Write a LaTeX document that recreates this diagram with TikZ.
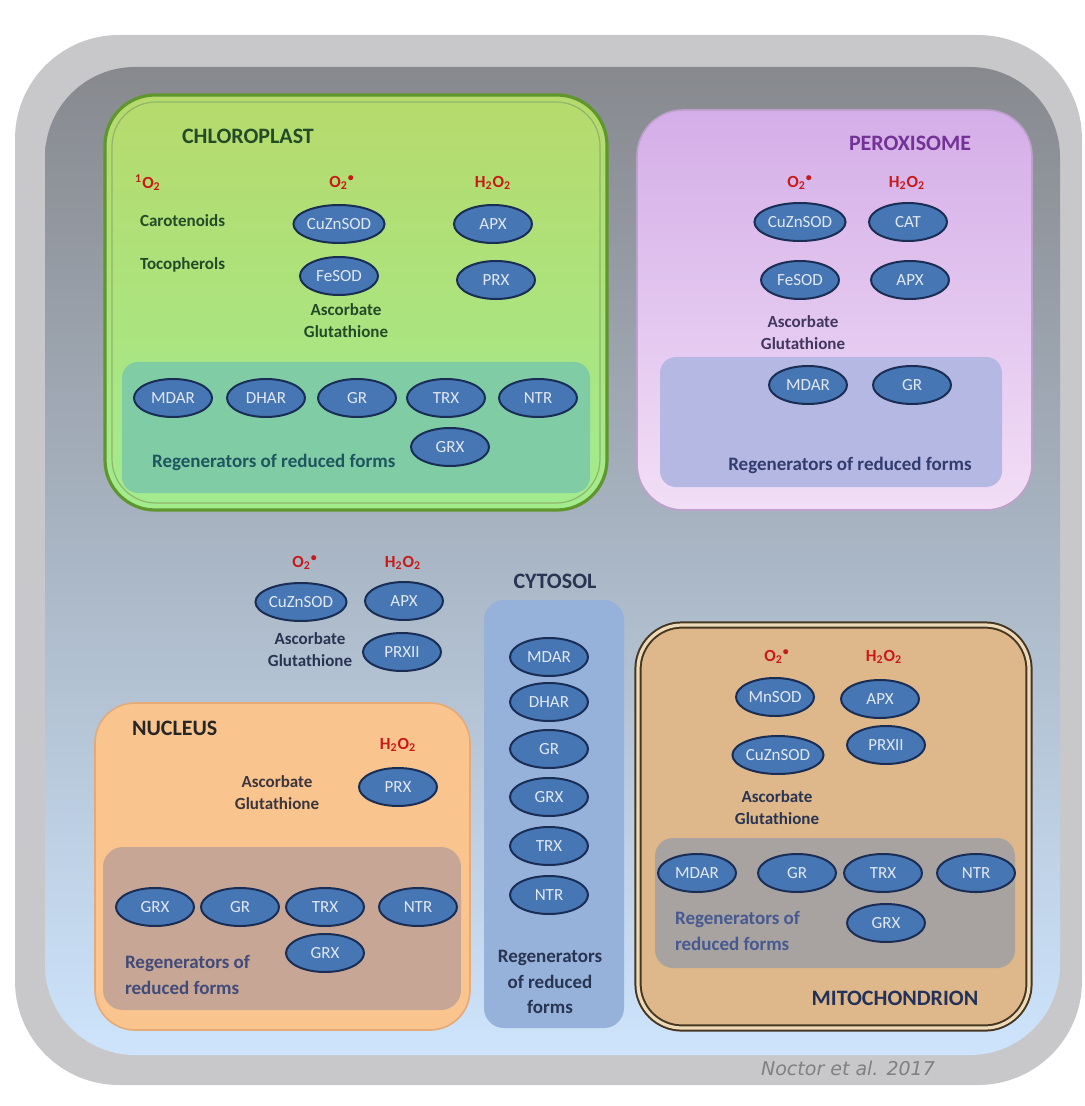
\documentclass[tikz,border=0pt]{standalone}
\usepackage{fontspec}
\setmainfont{Carlito}
\newfontfamily\creditfont{DejaVu Sans}
\usetikzlibrary{shapes.geometric}

\definecolor{framegray}{RGB}{200,200,202}
\definecolor{cyttop}{RGB}{135,137,142}
\definecolor{cytmid}{RGB}{172,184,200}
\definecolor{cytbot}{RGB}{205,228,252}
\definecolor{enzfill}{RGB}{70,118,180}
\definecolor{enzdraw}{RGB}{25,45,85}
\definecolor{enztext}{RGB}{225,232,242}
\definecolor{rosred}{RGB}{200,25,25}
\definecolor{chltop}{RGB}{182,218,108}
\definecolor{chlbot}{RGB}{162,236,142}
\definecolor{chledge}{RGB}{95,150,45}
\definecolor{chlreg}{RGB}{128,205,165}
\definecolor{chltext}{RGB}{35,75,40}
\definecolor{chlregtext}{RGB}{30,85,95}
\definecolor{poxtop}{RGB}{212,174,232}
\definecolor{poxbot}{RGB}{242,222,246}
\definecolor{poxedge}{RGB}{190,160,205}
\definecolor{poxreg}{RGB}{180,184,226}
\definecolor{poxtitle}{RGB}{115,50,150}
\definecolor{poxtext}{RGB}{65,55,95}
\definecolor{poxregtext}{RGB}{50,60,110}
\definecolor{cytcol}{RGB}{150,178,218}
\definecolor{cyttext}{RGB}{40,52,82}
\definecolor{nucfill}{RGB}{250,196,142}
\definecolor{nucedge}{RGB}{228,170,120}
\definecolor{nucreg}{RGB}{200,166,150}
\definecolor{nuctext}{RGB}{60,55,60}
\definecolor{nucregtext}{RGB}{65,75,120}
\definecolor{mitfill}{RGB}{222,184,138}
\definecolor{mitedge}{RGB}{70,55,35}
\definecolor{mitgap}{RGB}{238,218,185}
\definecolor{mitreg}{RGB}{168,163,160}
\definecolor{mittitle}{RGB}{35,50,90}
\definecolor{mitregtext}{RGB}{70,90,145}
\definecolor{creditgray}{RGB}{128,128,128}

\newcommand{\roSinglet}{\textsuperscript{1}O\textsubscript{2}}
\newcommand{\roSuper}{O\textsubscript{2}\textsuperscript{\textbullet}}
\newcommand{\roPerox}{H\textsubscript{2}O\textsubscript{2}}

\tikzset{
  enz/.style={ellipse, draw=enzdraw, line width=1pt, fill=enzfill, text=enztext,
    minimum width=39pt, minimum height=19pt, inner sep=0pt,
    font=\fontsize{8.5}{10}\selectfont},
  ros/.style={text=rosred, font=\bfseries\fontsize{8.5}{10}\selectfont},
  lbl/.style={align=center, font=\bfseries\fontsize{8.5}{11}\selectfont},
  regen/.style={font=\bfseries\fontsize{9.5}{12.75}\selectfont},
  compname/.style={font=\bfseries\fontsize{11}{13}\selectfont}
}

\begin{document}
\begin{tikzpicture}[x=0.5pt, y=-0.5pt]
\useasboundingbox (0,0) rectangle (1084,1106);
\fill[white] (0,0) rectangle (1084,1106);
%\draw[step=100,gray,very thin] (0,0) grid (1084,1106);

% cell
\fill[framegray, rounded corners=52pt] (15,35) rectangle (1082,1085);
\shade[top color=cyttop, middle color=cytmid, bottom color=cytbot, rounded corners=45pt] (45,67) rectangle (1060,1055);

% chloroplast
\shade[top color=chltop, bottom color=chlbot, rounded corners=25pt] (105,95) rectangle (607,510);
\draw[chledge, line width=1.6pt, rounded corners=25pt] (105,95) rectangle (607,510);
\draw[chledge!70, line width=0.6pt, rounded corners=22pt] (112,102) rectangle (600,503);
\fill[chlreg, rounded corners=8pt] (122,362) rectangle (590,493);
\node[compname, text=chltext, anchor=west] (chlTitle) at (175,136) {CHLOROPLAST};
\node[ros] (chlSinglet) at (148,183) {\roSinglet};
\node[ros] (chlSuper) at (342,183) {\roSuper};
\node[ros] (chlPerox) at (493,183) {\roPerox};
\node[lbl, text=chltext, anchor=west] (chlCarot) at (133,221) {Carotenoids};
\node[lbl, text=chltext, anchor=west] (chlToco) at (133,265) {Tocopherols};
\node[enz] (chlCuZn) at (339,224) {CuZnSOD};
\node[enz] (chlAPX) at (493,224) {APX};
\node[enz] (chlFe) at (339,276) {FeSOD};
\node[enz] (chlPRX) at (496,280) {PRX};
\node[lbl, text=chltext] (chlAsc) at (346,321) {Ascorbate\\Glutathione};
\node[enz] (chlMDAR) at (173,398) {MDAR};
\node[enz] (chlDHAR) at (266,398) {DHAR};
\node[enz] (chlGR) at (357,398) {GR};
\node[enz] (chlTRX) at (446,398) {TRX};
\node[enz] (chlNTR) at (538,398) {NTR};
\node[enz] (chlGRX) at (450,447) {GRX};
\node[regen, text=chlregtext, anchor=west] (chlRegen) at (145,462) {Regenerators of reduced forms};

% peroxisome
\shade[top color=poxtop, bottom color=poxbot, rounded corners=23pt] (637,110) rectangle (1032,510);
\draw[poxedge, line width=0.8pt, rounded corners=23pt] (637,110) rectangle (1032,510);
\fill[poxreg, rounded corners=8pt] (660,357) rectangle (1002,487);
\node[compname, text=poxtitle] (poxTitle) at (910,143) {PEROXISOME};
\node[ros] (poxSuper) at (800,183) {\roSuper};
\node[ros] (poxPerox) at (907,183) {\roPerox};
\node[enz] (poxCuZn) at (800,222) {CuZnSOD};
\node[enz] (poxCAT) at (908,222) {CAT};
\node[enz] (poxFe) at (800,280) {FeSOD};
\node[enz] (poxAPX) at (910,280) {APX};
\node[lbl, text=poxtext] (poxAsc) at (803,333) {Ascorbate\\Glutathione};
\node[enz] (poxMDAR) at (808,385) {MDAR};
\node[enz] (poxGR) at (912,385) {GR};
\node[regen, text=poxregtext] (poxRegen) at (850,465) {Regenerators of reduced forms};

% cytosol
\node[ros] (cytSuper) at (305,563) {\roSuper};
\node[ros] (cytPerox) at (403,563) {\roPerox};
\node[enz] (cytCuZn) at (301,602) {CuZnSOD};
\node[enz] (cytAPX) at (404,601) {APX};
\node[lbl, text=cyttext] (cytAsc) at (310,650) {Ascorbate\\Glutathione};
\node[enz] (cytPRXII) at (402,652) {PRXII};
\node[compname, text=cyttext] (cytTitle) at (555,581) {CYTOSOL};
\fill[cytcol, rounded corners=10pt] (484,600) rectangle (624,1028);
\node[enz] (cytMDAR) at (549,657) {MDAR};
\node[enz] (cytDHAR) at (549,702) {DHAR};
\node[enz] (cytGR) at (549,749) {GR};
\node[enz] (cytGRX) at (549,797) {GRX};
\node[enz] (cytTRX) at (549,846) {TRX};
\node[enz] (cytNTR) at (549,895) {NTR};
\node[regen, text=cyttext, align=center] (cytRegen) at (550,982) {Regenerators\\of reduced\\forms};

% nucleus
\fill[nucfill, rounded corners=20pt] (95,703) rectangle (470,1030);
\draw[nucedge, line width=0.8pt, rounded corners=20pt] (95,703) rectangle (470,1030);
\fill[nucreg, rounded corners=10pt] (103,847) rectangle (461,1010);
\node[compname, text=black!85, anchor=west] (nucTitle) at (125,728) {NUCLEUS};
\node[ros] (nucPerox) at (398,745) {\roPerox};
\node[lbl, text=nuctext] (nucAsc) at (277,793) {Ascorbate\\Glutathione};
\node[enz] (nucPRX) at (398,787) {PRX};
\node[enz] (nucGRX) at (155,907) {GRX};
\node[enz] (nucGR) at (240,907) {GR};
\node[enz] (nucTRX) at (325,907) {TRX};
\node[enz] (nucNTR) at (418,907) {NTR};
\node[enz] (nucGRXb) at (325,953) {GRX};
\node[regen, text=nucregtext, align=left, anchor=west] (nucRegen) at (118,975) {Regenerators of\\reduced forms};

% mitochondrion
\fill[mitfill, rounded corners=22pt] (636,623) rectangle (1031,1030);
\draw[mitedge, double=mitgap, double distance=1.6pt, line width=1pt, rounded corners=22pt] (638,625) rectangle (1029,1028);
\fill[mitreg, rounded corners=9pt] (655,838) rectangle (1015,968);
\node[ros] (mitSuper) at (777,657) {\roSuper};
\node[ros] (mitPerox) at (884,657) {\roPerox};
\node[enz] (mitMn) at (775,697) {MnSOD};
\node[enz] (mitAPX) at (880,699) {APX};
\node[enz] (mitCuZn) at (778,755) {CuZnSOD};
\node[enz] (mitPRXII) at (886,745) {PRXII};
\node[lbl, text=cyttext] (mitAsc) at (777,808) {Ascorbate\\Glutathione};
\node[enz] (mitMDAR) at (697,873) {MDAR};
\node[enz] (mitGR) at (797,873) {GR};
\node[enz] (mitTRX) at (883,873) {TRX};
\node[enz] (mitNTR) at (976,873) {NTR};
\node[enz] (mitGRX) at (886,923) {GRX};
\node[regen, text=mitregtext, align=left, anchor=west] (mitRegen) at (668,931) {Regenerators of\\reduced forms};
\node[compname, text=mittitle] (mitTitle) at (895,998) {MITOCHONDRION};

\node[text=creditgray, font=\creditfont\itshape\fontsize{9.5}{11}\selectfont] (credit) at (848,1068) {Noctor et al. 2017};
\end{tikzpicture}
\end{document}
